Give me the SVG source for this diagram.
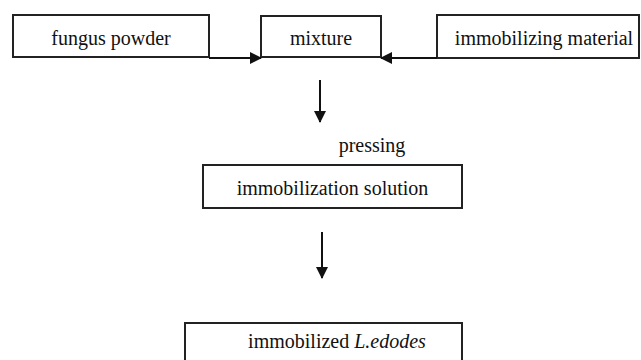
<svg xmlns="http://www.w3.org/2000/svg" width="641" height="360" viewBox="0 0 641 360">
<style>
.box{fill:#fff;stroke:#222;stroke-width:2}
.t{font-family:'Liberation Serif','DejaVu Serif',serif;font-size:20px;fill:#111;text-anchor:middle}
.c{stroke:#111;stroke-width:2;fill:none}
</style>
<defs>
<marker id="ah" markerWidth="12" markerHeight="12" refX="11" refY="6" orient="auto" markerUnits="userSpaceOnUse">
<path d="M0,0 L12,6 L0,12 Z" fill="#111"/>
</marker>
</defs>
<rect width="641" height="360" fill="#fff"/>
<g id="fungus">
<rect class="box" x="13" y="15" width="196" height="42"/>
<text class="t" x="111" y="45">fungus powder</text>
</g>
<g id="mixture">
<rect class="box" x="261" y="16" width="120" height="41"/>
<text class="t" x="321" y="45">mixture</text>
</g>
<g id="material">
<rect class="box" x="437" y="15" width="202" height="43"/>
<text class="t" x="544" y="45">immobilizing material</text>
</g>
<g id="pressing">
<text class="t" x="372" y="152">pressing</text>
</g>
<g id="solution">
<rect class="box" x="203" y="165" width="259" height="43"/>
<text class="t" x="332.5" y="195">immobilization solution</text>
</g>
<g id="final">
<rect class="box" x="185" y="323" width="277" height="45"/>
<text class="t" x="337" y="348">immobilized <tspan font-style="italic">L.edodes</tspan></text>
</g>
<g id="connectors">
<path class="c" d="M209,58 L261,58" marker-end="url(#ah)"/>
<path class="c" d="M437,58 L381,58" marker-end="url(#ah)"/>
<path class="c" d="M320,80 L320,122" marker-end="url(#ah)"/>
<path class="c" d="M322,232 L322,278" marker-end="url(#ah)"/>
</g>
</svg>
